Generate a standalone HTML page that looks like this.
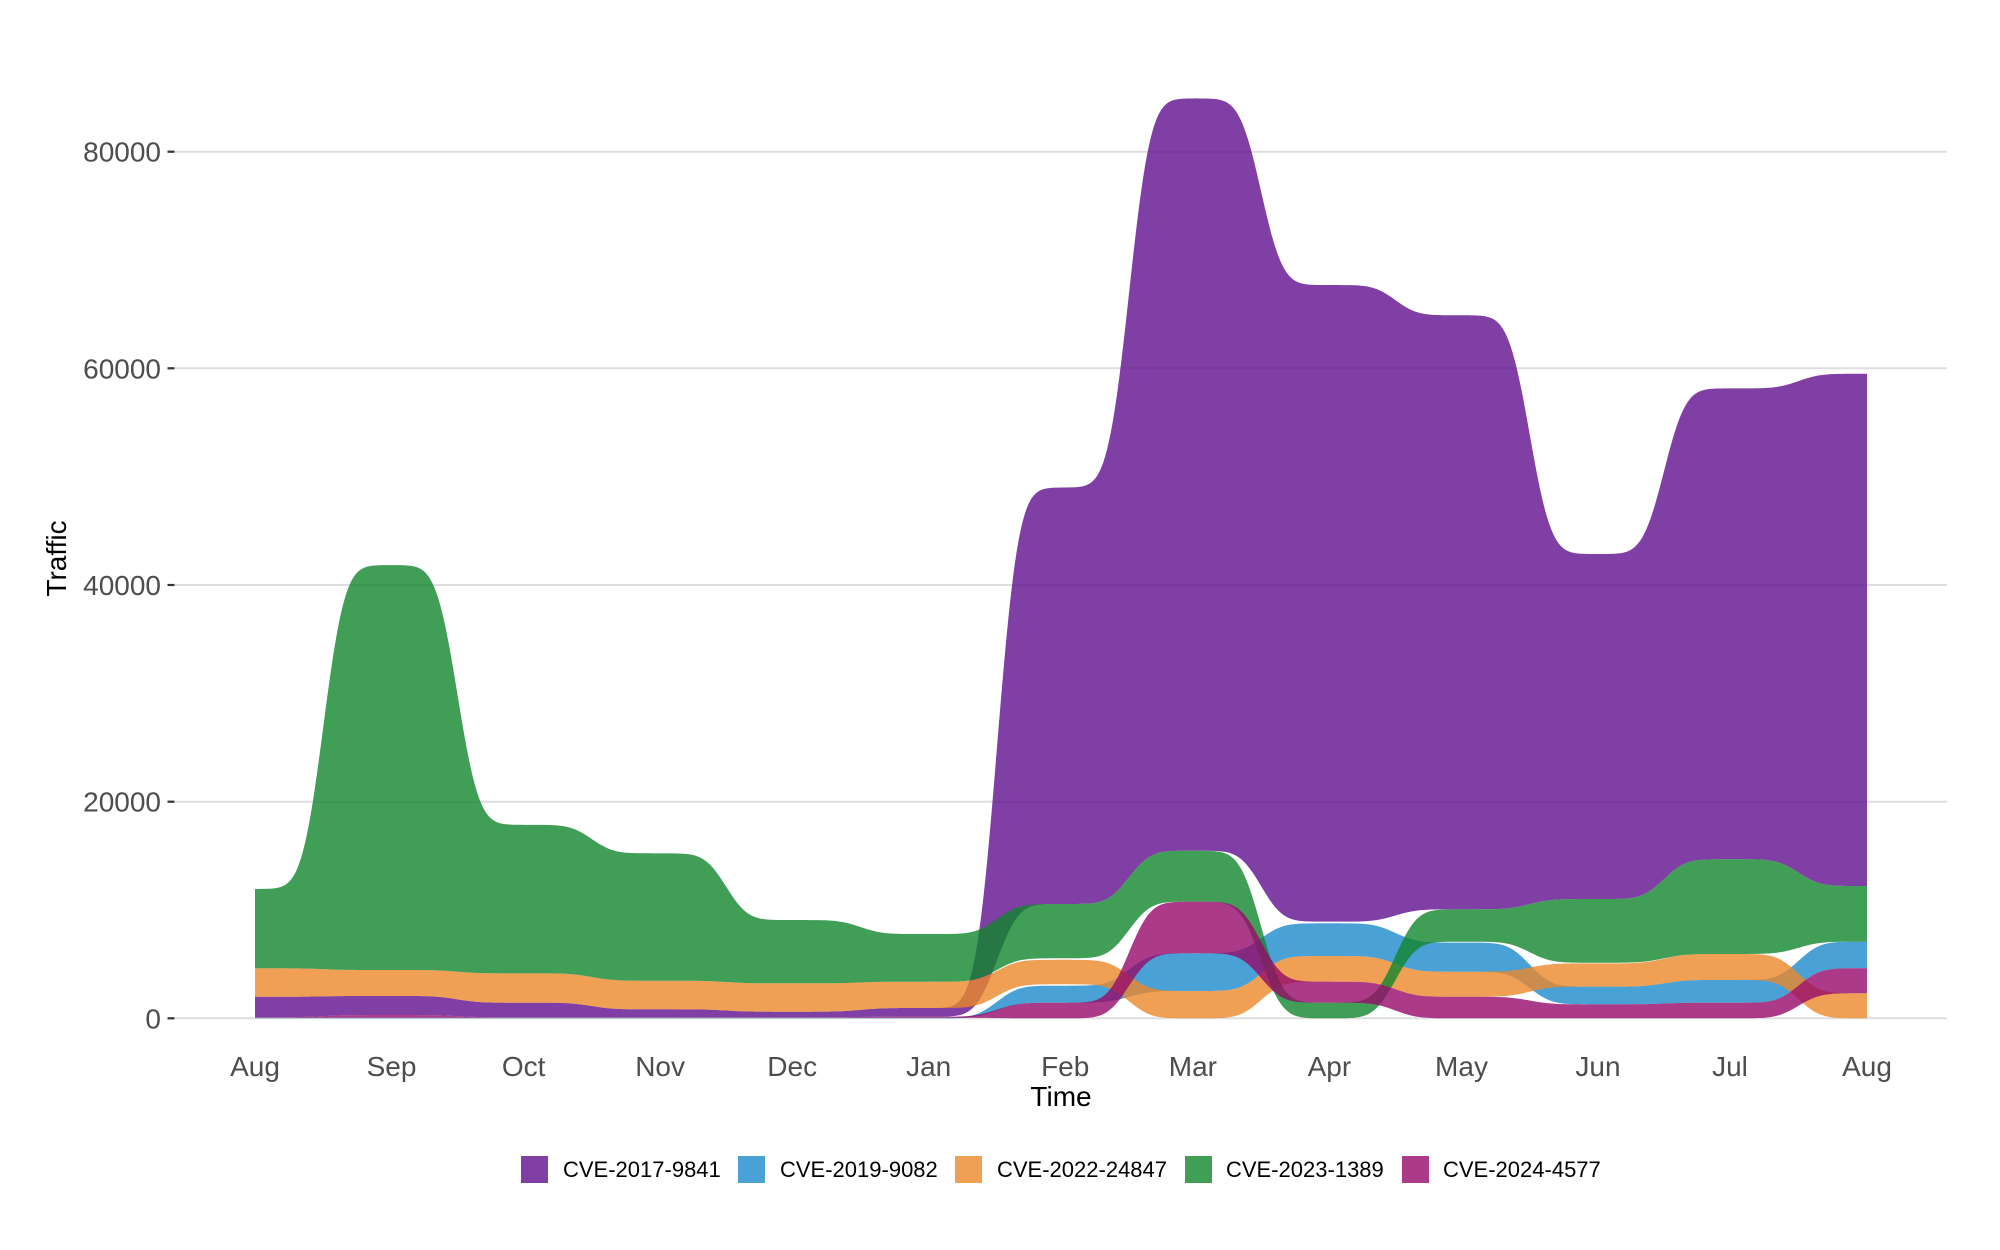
<!DOCTYPE html>
<html><head><meta charset="utf-8">
<style>
html,body{margin:0;padding:0;background:#fff;}
svg{display:block;}
text{font-family:"Liberation Sans",Arial,Helvetica,sans-serif;}
</style></head>
<body>
<svg id="c" width="2000" height="1250" viewBox="0 0 2000 1250" xmlns="http://www.w3.org/2000/svg">
<rect width="2000" height="1250" fill="#ffffff"/>
<g stroke="#dedede" stroke-width="2">
<line x1="175" x2="1947" y1="151.7" y2="151.7"/>
<line x1="175" x2="1947" y1="368.3" y2="368.3"/>
<line x1="175" x2="1947" y1="585" y2="585"/>
<line x1="175" x2="1947" y1="801.7" y2="801.7"/>
<line x1="175" x2="1947" y1="1018.3" y2="1018.3"/>
</g>
<g id="areas"></g>
<g stroke="#333333" stroke-width="2.2">
<line x1="167.5" x2="174.5" y1="151.7" y2="151.7"/>
<line x1="167.5" x2="174.5" y1="368.3" y2="368.3"/>
<line x1="167.5" x2="174.5" y1="585" y2="585"/>
<line x1="167.5" x2="174.5" y1="801.7" y2="801.7"/>
<line x1="167.5" x2="174.5" y1="1018.3" y2="1018.3"/>
</g>
<g font-size="28" fill="#4d4d4d" text-anchor="end">
<text x="161" y="161.7">80000</text>
<text x="161" y="378.3">60000</text>
<text x="161" y="595">40000</text>
<text x="161" y="811.7">20000</text>
<text x="161" y="1028.3">0</text>
</g>
<g font-size="28" fill="#4d4d4d" text-anchor="middle">
<text x="255" y="1076">Aug</text>
<text x="391.5" y="1076">Sep</text>
<text x="523.6" y="1076">Oct</text>
<text x="660.1" y="1076">Nov</text>
<text x="792.2" y="1076">Dec</text>
<text x="928.7" y="1076">Jan</text>
<text x="1065.2" y="1076">Feb</text>
<text x="1192.9" y="1076">Mar</text>
<text x="1329.4" y="1076">Apr</text>
<text x="1461.5" y="1076">May</text>
<text x="1598" y="1076">Jun</text>
<text x="1730" y="1076">Jul</text>
<text x="1867" y="1076">Aug</text>
</g>
<text x="1061" y="1106" font-size="28" fill="#000" text-anchor="middle">Time</text>
<text transform="translate(66,558.5) rotate(-90)" font-size="28" fill="#000" text-anchor="middle">Traffic</text>
<g fill-opacity="0.8">
<rect x="521" y="1156" width="27" height="27" fill="#5f0f8e"/>
<rect x="738" y="1156" width="27" height="27" fill="#1d89cb"/>
<rect x="955" y="1156" width="27" height="27" fill="#eb882a"/>
<rect x="1185" y="1156" width="27" height="27" fill="#12862d"/>
<rect x="1402" y="1156" width="27" height="27" fill="#960a6a"/>
</g>
<g font-size="22" fill="#000">
<text x="563" y="1177">CVE-2017-9841</text>
<text x="780" y="1177">CVE-2019-9082</text>
<text x="997" y="1177">CVE-2022-24847</text>
<text x="1226" y="1177">CVE-2023-1389</text>
<text x="1443" y="1177">CVE-2024-4577</text>
</g>
</svg>
<script>
(function(){
var xs=[255,391.5,523.6,660.1,792.2,928.7,1065.2,1192.9,1329.4,1461.5,1598,1730,1867];
function Phi(z){
  var t=1/(1+0.2316419*Math.abs(z));
  var d=0.3989423*Math.exp(-z*z/2);
  var p=d*t*(0.3193815+t*(-0.3565638+t*(1.781478+t*(-1.821256+t*1.330274))));
  return z>0?1-p:p;
}
var S=17;
function f(vals,x){
  var v=vals[0];
  for(var i=0;i<vals.length-1;i++){
    var m=(xs[i]+xs[i+1])/2;
    v+=(vals[i+1]-vals[i])*Phi((x-m)/S);
  }
  return v;
}
function Y(v){return 1018.3-v*0.0108325;}
var series=[
 {c:'#5f0f8e',
  lo:[100,300,100,100,100,150,10550,15470,8920,10060,11010,14680,12210],
  hi:[1990,2060,1440,830,610,950,49000,84920,67690,64900,42860,58150,59500]},
 {c:'#1d89cb',
  lo:[0,0,0,0,0,0,1440,2520,5750,4300,1290,1440,4620],
  hi:[50,50,50,50,50,50,3010,6000,8770,6990,2920,3540,7070]},
 {c:'#eb882a',
  lo:[1990,2060,1440,830,610,950,3140,0,3380,1990,2920,3540,0],
  hi:[4616,4460,4150,3470,3230,3380,5400,2520,5750,4300,5070,5940,2310]},
 {c:'#12862d',
  lo:[4616,4460,4150,3470,3230,3380,5540,10770,0,7070,5130,5940,7070],
  hi:[11940,41840,17860,15230,9070,7780,10550,15470,1440,10060,11010,14680,12210]},
 {c:'#960a6a',
  lo:[50,50,50,50,50,50,0,6000,1440,0,0,0,2310],
  hi:[100,300,100,100,100,150,1440,10770,3380,1990,1290,1440,4620]}
];
var g=document.getElementById('areas');
var NS='http://www.w3.org/2000/svg';
var X=[];
for(var x=255;x<1867;x+=2){X.push(x);}
X.push(1867);
series.forEach(function(s){
  var d='';
  for(var i=0;i<X.length;i++){
    d+=(i?'L':'M')+X[i].toFixed(1)+','+Y(f(s.hi,X[i])).toFixed(2);
  }
  for(var j=X.length-1;j>=0;j--){
    d+='L'+X[j].toFixed(1)+','+Y(f(s.lo,X[j])).toFixed(2);
  }
  d+='Z';
  var p=document.createElementNS(NS,'path');
  p.setAttribute('d',d);
  p.setAttribute('fill',s.c);
  p.setAttribute('fill-opacity','0.8');
  g.appendChild(p);
});
})();
</script>
</body></html>
